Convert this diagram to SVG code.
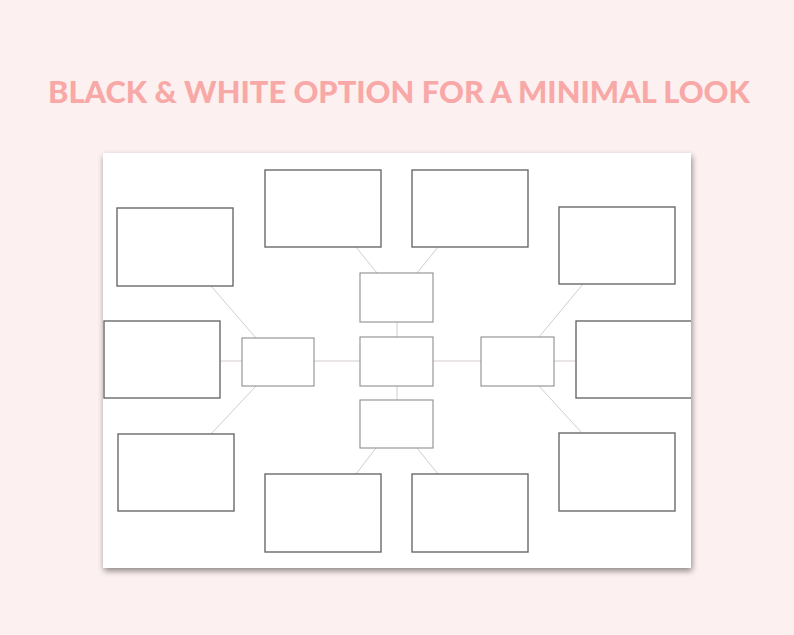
<svg xmlns="http://www.w3.org/2000/svg" width="794" height="635" viewBox="0 0 794 635">
<defs>
<filter id="sh" x="-5%" y="-5%" width="110%" height="112%">
<feGaussianBlur in="SourceAlpha" stdDeviation="3"/>
<feOffset dx="1" dy="3"/>
<feComponentTransfer><feFuncA type="linear" slope="0.45"/></feComponentTransfer>
<feMerge><feMergeNode/><feMergeNode in="SourceGraphic"/></feMerge>
</filter>
<clipPath id="pg"><rect x="103" y="153" width="588" height="415"/></clipPath>
</defs>
<style>
.big{fill:#fff;stroke:#6a6a6a;stroke-width:1.4}
.small{fill:#fff;stroke:#8e8e8e;stroke-width:1.1}
.ln{stroke:#d6cbcb;stroke-width:1;fill:none}
.title{font-family:Lato,"Open Sans","Liberation Sans",sans-serif;font-weight:900;font-size:31px;fill:#f8a9a7}
</style>
<rect width="794" height="635" fill="#fdf0f0"/>
<text class="title" x="48" y="103" textLength="702" lengthAdjust="spacingAndGlyphs">BLACK &amp; WHITE OPTION FOR A MINIMAL LOOK</text>
<rect x="103" y="153" width="588" height="415" fill="#fff" filter="url(#sh)"/>
<g clip-path="url(#pg)">
<g id="connectors">
<line class="ln" x1="211" y1="286" x2="256" y2="338"/>
<line class="ln" x1="220" y1="361" x2="242" y2="361"/>
<line class="ln" x1="314" y1="361" x2="360" y2="361"/>
<line class="ln" x1="256" y1="386" x2="211" y2="434"/>
<line class="ln" x1="356" y1="247" x2="377" y2="273"/>
<line class="ln" x1="438" y1="247" x2="417" y2="273"/>
<line class="ln" x1="397" y1="322" x2="397" y2="337"/>
<line class="ln" x1="397" y1="386" x2="397" y2="400"/>
<line class="ln" x1="433" y1="361" x2="481" y2="361"/>
<line class="ln" x1="554" y1="361" x2="576" y2="361"/>
<line class="ln" x1="539" y1="337" x2="583" y2="284"/>
<line class="ln" x1="539" y1="386" x2="582" y2="433"/>
<line class="ln" x1="376" y1="448" x2="356" y2="474"/>
<line class="ln" x1="417" y1="448" x2="438" y2="474"/>
</g>
<g id="n-tl"><rect class="big" x="117" y="208" width="116" height="78"/></g>
<g id="n-t1"><rect class="big" x="265" y="170" width="116" height="77"/></g>
<g id="n-t2"><rect class="big" x="412" y="170" width="116" height="77"/></g>
<g id="n-tr"><rect class="big" x="559" y="207" width="116" height="77"/></g>
<g id="n-ml"><rect class="big" x="104" y="321" width="116" height="77"/></g>
<g id="n-mr"><rect class="big" x="576" y="321" width="116" height="77"/></g>
<g id="n-bl"><rect class="big" x="118" y="434" width="116" height="77"/></g>
<g id="n-b1"><rect class="big" x="265" y="474" width="116" height="78"/></g>
<g id="n-b2"><rect class="big" x="412" y="474" width="116" height="78"/></g>
<g id="n-br"><rect class="big" x="559" y="433" width="116" height="78"/></g>
<g id="s-left"><rect class="small" x="242" y="338" width="72" height="48"/></g>
<g id="s-top"><rect class="small" x="360" y="273" width="73" height="49"/></g>
<g id="s-center"><rect class="small" x="360" y="337" width="73" height="49"/></g>
<g id="s-bottom"><rect class="small" x="360" y="400" width="73" height="48"/></g>
<g id="s-right"><rect class="small" x="481" y="337" width="73" height="49"/></g>
</g>
</svg>
